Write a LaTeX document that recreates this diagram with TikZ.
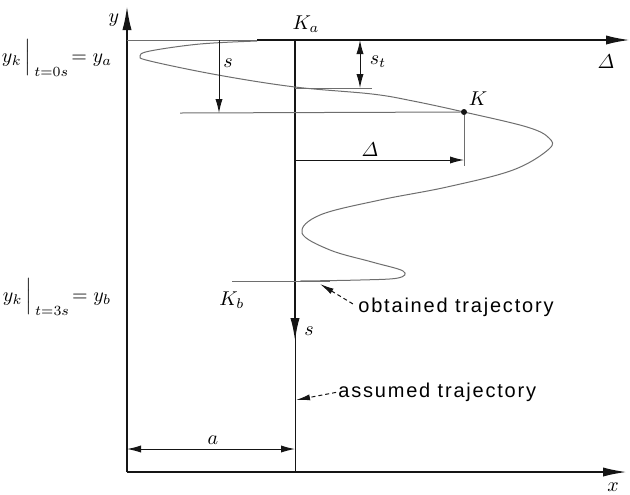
\documentclass[tikz,border=0pt]{standalone}
\usepackage{amsmath}
\usepackage{fontspec}
\newfontfamily\tagfont[LetterSpace=9]{Liberation Sans}
\usetikzlibrary{arrows.meta}
\definecolor{ink}{HTML}{151515}
\definecolor{pencil}{HTML}{6E6E6E}

\begin{document}
\begin{tikzpicture}[x=0.5pt,y=-0.5pt, >={Latex[length=7pt,width=3.6pt]},
  axisline/.style={line width=1pt, draw=ink, -{Latex[length=12pt,width=4.6pt]}},
  trackline/.style={line width=1.3pt, draw=ink},
  thinline/.style={line width=0.5pt, draw=pencil},
  dimline/.style={line width=0.5pt, draw=ink},
  leader/.style={line width=0.5pt, draw=ink, dash pattern=on 2pt off 1.5pt, -{Latex[length=7pt,width=3pt]}},
  tag/.style={font=\tagfont, inner sep=0pt, anchor=west}]
\useasboundingbox (0,0) rectangle (630,494);

% axes
\coordinate (O) at (127,472);
\coordinate (ytip) at (127,6);
\coordinate (xtip) at (627,472);
\draw[axisline] (O) -- (ytip);
\draw[axisline] (O) -- (xtip);
\node (ylab) at (114,20) {$y$};
\node (xlab) at (613,487) {$x$};

% level y_a and Delta axis
\coordinate (ya) at (127,40);
\coordinate (Cstart) at (257,40);
\coordinate (Ka) at (295,40);
\coordinate (Dtip) at (630,40);
\draw[thinline] (ya) -- (Cstart);
\draw[axisline] (Cstart) -- (Dtip);
\node (Dlab) at (606,62) {$\varDelta$};
\node (yalab) at (57,58) {$y_k\,\Big|_{\,t=0s}\!=y_a$};
\node (yblab) at (57,297) {$y_k\,\Big|_{\,t=3s}\!=y_b$};

% assumed trajectory
\coordinate (Sarrow) at (295,342);
\coordinate (Kx) at (295,472);
\draw[dimline] (Ka) -- (Kx);
\draw[trackline, -{Latex[length=12pt,width=4.6pt]}] (Ka) -- (Sarrow);
\node (Kalab) at (306,24) {$K_a$};
\node (slab) at (309,331) {$s$};

% obtained trajectory
\draw[thinline] plot[smooth, tension=0.6] coordinates {(257,41) (200,44) (150,51) (140,56) (150,61) (218,75) (295,87) (372,94) (413,101) (464,112) (527,127) (549,138) (549,149) (513,170) (447,187) (380,200) (320,215) (302,233) (330,250) (372,262) (403,271) (398,278) (360,280) (300,281)};
\node[circle, fill=ink, inner sep=0pt, minimum size=3pt] (K) at (464,112) {};
\node (Klab) at (478,99) {$K$};

% s
\coordinate (sTop) at (219,40);
\coordinate (sBot) at (219,113);
\coordinate (Kline) at (180,113);
\draw[thinline] (Kline) -- (K);
\draw[dimline, ->] (sTop) -- (sBot);
\node (sdim) at (228,63) {$s$};

% s_t
\coordinate (stTop) at (360,40);
\coordinate (stBot) at (360,88);
\coordinate (stA) at (295,88);
\coordinate (stB) at (372,88);
\draw[thinline] (stA) -- (stB);
\draw[dimline, <->] (stTop) -- (stBot);
\node (stlab) at (378,62) {$s_t$};

% Delta
\coordinate (Dstart) at (295,160);
\coordinate (Dend) at (464,160);
\coordinate (Kfoot) at (464,166);
\draw[thinline] (K) -- (Kfoot);
\draw[dimline, ->] (Dstart) -- (Dend);
\node (Ddim) at (370,150) {$\varDelta$};

% K_b
\coordinate (Kb0) at (232,281);
\coordinate (Kb1) at (330,281);
\draw[thinline] (Kb0) -- (Kb1);
\node (Kblab) at (232,300) {$K_b$};

% leaders
\node[tag] (obt) at (358,307) {obtained trajectory};
\coordinate (obtTip) at (320,284);
\draw[leader, shorten <=3pt] (obt.west) -- (obtTip);
\node[tag] (ass) at (338,392) {assumed trajectory};
\coordinate (assTip) at (296,400);
\draw[leader, shorten <=1pt] (ass.west) -- (assTip);

% a
\coordinate (a0) at (127,449);
\coordinate (a1) at (295,449);
\draw[dimline, <->] (a0) -- (a1);
\node (alab) at (213,440) {$a$};
\end{tikzpicture}
\end{document}
